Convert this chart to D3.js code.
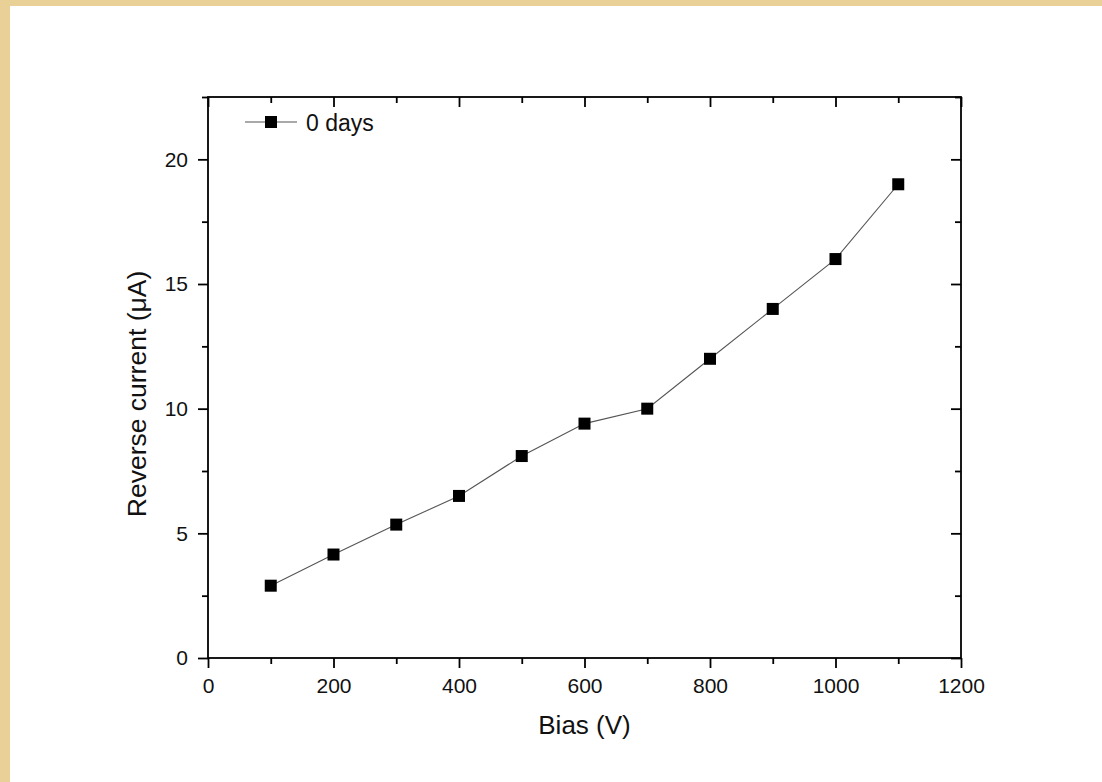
<!DOCTYPE html>
<html>
<head>
<meta charset="utf-8">
<script src="https://d3js.org/d3.v7.min.js"></script>
<style>
  html, body { margin: 0; padding: 0; background: #ffffff; }
  svg { display: block; }
</style>
</head>
<body>
<svg id="chart" width="1102" height="782"></svg>
<script>
// Reverse current vs bias voltage
const biasVolts = [100, 200, 300, 400, 500, 600, 700, 800, 900, 1000, 1100];
const currentMicroA = [2.9, 4.15, 5.35, 6.5, 8.1, 9.4, 10.0, 12.0, 14.0, 16.0, 19.0];
const xTicks = [0, 200, 400, 600, 800, 1000, 1200];
const yTicks = [0, 5, 10, 15, 20];
const seriesName = "0 days";

const W = 1102, H = 782;
const svg = d3.select("#chart");

// paper frame
svg.append("rect").attr("x", 0).attr("y", 0).attr("width", W).attr("height", H).attr("fill", "#e8d096");
svg.append("rect").attr("x", 10).attr("y", 6).attr("width", W - 10).attr("height", H - 6).attr("fill", "#ffffff");

const plot = { left: 208, right: 961, top: 97, bottom: 658 };
const x = d3.scaleLinear().domain([0, 1200]).range([plot.left, plot.right]);
const y = d3.scaleLinear().domain([0, 22.5]).range([plot.bottom, plot.top]);

const font = "'Liberation Sans', Arial, sans-serif";
const axisW = 1.8;

const xMinor = d3.range(100, 1200, 200);
const yMinor = d3.range(2.5, 22.6, 5);

function styleAxis(g) {
  g.select(".domain").remove();
  g.selectAll(".tick line").attr("stroke", "#000").attr("stroke-width", axisW);
  g.selectAll(".tick text").attr("font-family", font).attr("font-size", 21).attr("fill", "#111");
}

// bottom axis: major ticks outward with labels
svg.append("g").attr("transform", `translate(0,${plot.bottom})`)
  .call(d3.axisBottom(x).tickValues(xTicks).tickSize(10).tickPadding(10).tickFormat(d3.format("d")))
  .call(styleAxis);
svg.append("g").attr("transform", `translate(0,${plot.bottom})`)
  .call(d3.axisBottom(x).tickValues(xMinor).tickSize(6).tickFormat(""))
  .call(styleAxis);

// left axis
svg.append("g").attr("transform", `translate(${plot.left},0)`)
  .call(d3.axisLeft(y).tickValues(yTicks).tickSize(10).tickPadding(10).tickFormat(d3.format("d")))
  .call(styleAxis);
svg.append("g").attr("transform", `translate(${plot.left},0)`)
  .call(d3.axisLeft(y).tickValues(yMinor).tickSize(6).tickFormat(""))
  .call(styleAxis);

// top axis: ticks pointing inward
svg.append("g").attr("transform", `translate(0,${plot.top})`)
  .call(d3.axisBottom(x).tickValues(xTicks).tickSize(10).tickFormat(""))
  .call(styleAxis);
svg.append("g").attr("transform", `translate(0,${plot.top})`)
  .call(d3.axisBottom(x).tickValues(xMinor).tickSize(6).tickFormat(""))
  .call(styleAxis);

// right axis: ticks pointing inward
svg.append("g").attr("transform", `translate(${plot.right},0)`)
  .call(d3.axisLeft(y).tickValues(yTicks).tickSize(10).tickFormat(""))
  .call(styleAxis);
svg.append("g").attr("transform", `translate(${plot.right},0)`)
  .call(d3.axisLeft(y).tickValues(yMinor).tickSize(6).tickFormat(""))
  .call(styleAxis);

// frame lines
svg.append("rect")
  .attr("x", plot.left).attr("y", plot.top)
  .attr("width", plot.right - plot.left).attr("height", plot.bottom - plot.top)
  .attr("fill", "none").attr("stroke", "#000").attr("stroke-width", axisW);

// axis titles
svg.append("text")
  .attr("x", (plot.left + plot.right) / 2).attr("y", 734)
  .attr("text-anchor", "middle")
  .attr("font-family", font).attr("font-size", 26).attr("fill", "#111")
  .text("Bias (V)");
svg.append("text")
  .attr("transform", "translate(146,394) rotate(-90)")
  .attr("text-anchor", "middle")
  .attr("font-family", font).attr("font-size", 26.5).attr("fill", "#111")
  .text("Reverse current (μA)");

// data line and markers
const pts = biasVolts.map((v, i) => [v, currentMicroA[i]]);
svg.append("path")
  .datum(pts)
  .attr("fill", "none").attr("stroke", "#555").attr("stroke-width", 1.1)
  .attr("d", d3.line().x(d => x(d[0])).y(d => y(d[1])));

const ms = 12;
svg.append("g").selectAll("rect").data(pts).join("rect")
  .attr("x", d => x(d[0]) - ms / 2).attr("y", d => y(d[1]) - ms / 2)
  .attr("width", ms).attr("height", ms).attr("fill", "#000");

// legend
const lg = svg.append("g").attr("transform", "translate(245,122)");
lg.append("line").attr("x1", 0).attr("x2", 52).attr("y1", 0).attr("y2", 0)
  .attr("stroke", "#555").attr("stroke-width", 1.1);
lg.append("rect").attr("x", 26 - ms / 2).attr("y", -ms / 2).attr("width", ms).attr("height", ms).attr("fill", "#000");
lg.append("text").attr("x", 61).attr("y", 8.5)
  .attr("font-family", font).attr("font-size", 23).attr("fill", "#111")
  .text(seriesName);
</script>
</body>
</html>
